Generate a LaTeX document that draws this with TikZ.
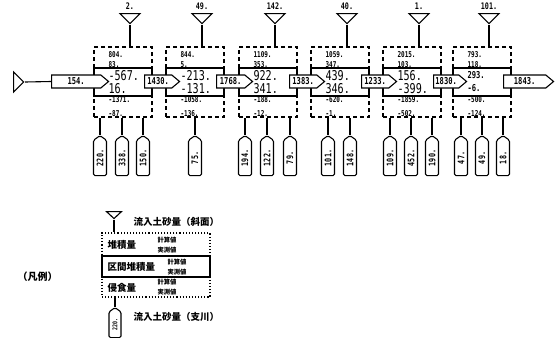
\documentclass[tikz,border=0pt]{standalone}
\usepackage{fontspec}
\newfontfamily\numfont[FakeStretch=0.75]{DejaVu Sans Mono}
\newfontfamily\jpfont{Noto Sans CJK JP}
\usetikzlibrary{positioning, shapes.geometric, shapes.symbols}
\tikzset{
  every picture/.style={x=1pt, y=-1pt, line width=1.1pt},
  sect/.style={draw, dash pattern=on 4pt off 3pt, minimum width=58pt, minimum height=70pt, inner sep=0pt},
  band/.style={draw, line width=1.3pt, minimum width=58pt, minimum height=28pt, inner sep=0pt},
  flow/.style={signal, signal to=east, signal pointer angle=80, draw, fill=white, anchor=west,
    minimum height=13pt, inner sep=1pt, font=\numfont\bfseries\fontsize{9.5}{10}\selectfont},
  trib/.style={signal, signal to=east, signal pointer angle=110, rotate=90, anchor=east, draw, fill=white,
    rounded corners=1.5pt, minimum width=40pt, minimum height=13pt, inner sep=1pt,
    font=\numfont\bfseries\fontsize{9}{10}\selectfont},
  slope/.style={isosceles triangle, isosceles triangle stretches, shape border rotate=270, anchor=apex,
    draw, inner sep=0pt, minimum width=20pt, minimum height=10pt},
  lbl/.style={inner sep=0pt, font=\numfont\bfseries\fontsize{9}{10}\selectfont},
  numsml/.style={anchor=west, inner sep=0pt, font=\numfont\bfseries\fontsize{8}{9}\selectfont},
  numbig/.style={anchor=west, inner sep=0pt, font=\numfont\fontsize{13.5}{14}\selectfont},
  nummid/.style={anchor=west, inner sep=0pt, font=\numfont\bfseries\fontsize{9.5}{10}\selectfont},
  jp/.style={anchor=west, inner sep=0pt, font=\jpfont\bfseries\fontsize{9.5}{11}\selectfont},
  jpsm/.style={anchor=west, inner sep=0pt, align=left, font=\jpfont\bfseries\fontsize{6.3}{9.5}\selectfont},
}
\begin{document}
\begin{tikzpicture}
  \useasboundingbox (0,0) rectangle (558,338);
  \node[slope, shape border rotate=0] (src) at (25,82) {};
  \foreach \i/\x/\q/\ta/\tb/\ma/\mb/\ba/\bb/\ms in {
      1/94/2./804./83./-567./16./-1371./-87./numbig,
      2/166/49./844./5./-213./-131./-1058./-136./numbig,
      3/239/142./1109./353./922./341./-188./-12./numbig,
      4/311/40./1059./347./439./346./-620./-1./numbig,
      5/383/1./2015./103./156./-399./-1859./-502./numbig,
      6/453/101./793./118./293./-6./-500./-124./nummid}{
    \node[sect] (s\i) at (\x+29,82) {};
    \node[band] (m\i) at (\x+29,82) {};
    \node[slope] (t\i) at (\x+36,25) {};
    \node[lbl, above=3pt of t\i] (q\i) {\q};
    \draw (t\i.apex) -- (t\i.apex |- s\i.north);
    \node[numsml] (ta\i) at (\x+14,55) {\ta};
    \node[numsml] (tb\i) at (\x+14,64.5) {\tb};
    \node[\ms] (ma\i) at (\x+14,75.5) {\ma};
    \node[\ms] (mb\i) at (\x+14,88.5) {\mb};
    \node[numsml] (ba\i) at (\x+14,100) {\ba};
    \node[numsml] (bb\i) at (\x+14,113.5) {\bb};
  }
  \foreach \n/\l/\w/\v in {0/51/57/154., 1/144/35/1430., 2/216/36/1768., 3/289/35/1383.,
      4/361/35/1233., 5/433/33/1830., 6/503/50/1843.}
    \node[flow, minimum width=\w pt] (f\n) at (\l,81.5) {\v};
  \draw (src.apex) -- (f0.west);
  \foreach \b/\x/\v in {1/100/220., 1/122/338., 1/143/150., 2/195/75., 3/245/194., 3/267/122.,
      3/290/79., 4/328/101., 4/350/148., 5/390/109., 5/411/452., 5/432/190., 6/461/47.,
      6/482/49., 6/503/18.}{
    \node[trib] (r\x) at (\x,135) {\v};
    \draw (r\x.east) -- (r\x.east |- s\b.south);
  }
  % legend
  \node[jp, font=\jpfont\bfseries\fontsize{10}{12}\selectfont] (key) at (17,277) {（凡例）};
  \node[slope, minimum width=15pt, minimum height=7pt] (lt) at (114,220) {};
  \node[jp] (lq) at (133,222) {流入土砂量（斜面）};
  \node[draw, dotted, minimum width=108pt, minimum height=64pt, inner sep=0pt] (lg) at (156,265) {};
  \node[draw, minimum width=108pt, minimum height=21pt, inner sep=0pt] (lm) at (156,266.5) {};
  \draw (lt.apex) -- (lg.north -| lt.apex);
  \node[jp] (la) at (107,245) {堆積量};
  \node[jpsm] (lac) at (157,245) {計算値\\実測値};
  \node[jp] (lb) at (107,267) {区間堆積量};
  \node[jpsm] (lbc) at (167,267) {計算値\\実測値};
  \node[jp] (lc) at (107,288) {侵食量};
  \node[jpsm] (lcc) at (157,287) {計算値\\実測値};
  \node[trib, minimum width=30pt, minimum height=12pt, font=\numfont\bfseries\fontsize{6.5}{7}\selectfont] (lr) at (115,307) {220.};
  \draw (lr.east) -- (lr.east |- lg.south);
  \node[jp] (lrt) at (133,317) {流入土砂量（支川）};
\end{tikzpicture}
\end{document}
